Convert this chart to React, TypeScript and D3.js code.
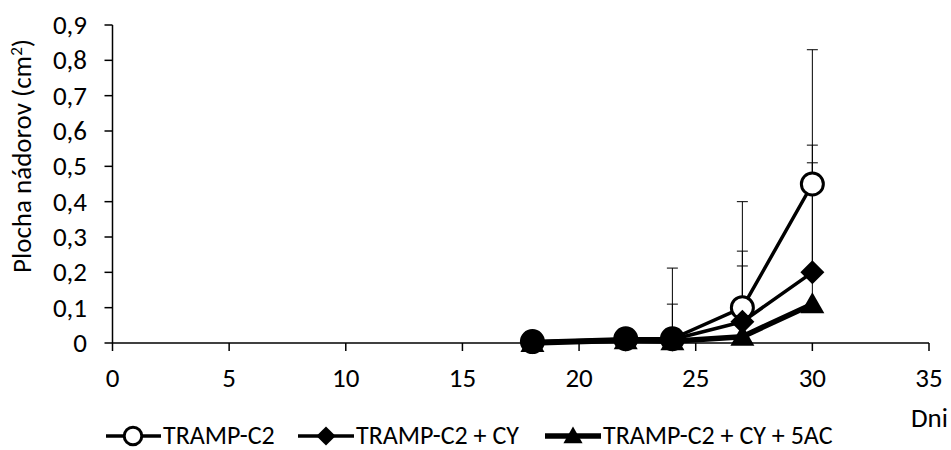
import React from "react";
import * as d3 from "d3";

const days = [18, 22, 24, 27, 30];
const tramp = [0.004, 0.012, 0.012, 0.1, 0.45];
const trampErr = [0, 0.004, 0.2, 0.3, 0.38];
const trampMarkerFill = ["#000", "#000", "#000", "#fff", "#fff"];
const trampCy = [0.002, 0.01, 0.01, 0.06, 0.2];
const trampCyErr = [0, 0.003, 0.1, 0.2, 0.36];
const trampCy5ac = [0.0, 0.008, 0.005, 0.018, 0.11];
const trampCy5acErr = [0, 0.002, 0.003, 0.2, 0.4];
const seriesNames = ["TRAMP-C2", "TRAMP-C2 + CY", "TRAMP-C2 + CY + 5AC"];
const xTicks = [0, 5, 10, 15, 20, 25, 30, 35];
const yTicks = [0, 0.1, 0.2, 0.3, 0.4, 0.5, 0.6, 0.7, 0.8, 0.9];

const FONT = "Carlito, Calibri, 'Open Sans', sans-serif";
const FS = 27;

function Marker({ type, x, y, fill, s = 1 }: { type: string; x: number; y: number; fill?: string; s?: number }) {
  if (type === "circle")
    return <circle cx={x} cy={y} r={11 * s} fill={fill || "#fff"} stroke="#000" strokeWidth={3} />;
  if (type === "diamond") {
    const k = 12 * s;
    return <path d={`M${x},${y - k}L${x + k},${y}L${x},${y + k}L${x - k},${y}Z`} fill="#000" />;
  }
  return (
    <path
      d={`M${x},${y - 12 * s}L${x + 12 * s},${y + 9 * s}L${x - 12 * s},${y + 9 * s}Z`}
      fill="#000"
    />
  );
}

export default function App() {
  const W = 951, H = 450;
  const x = d3.scaleLinear().domain([0, 35]).range([112.5, 929]);
  const y = d3.scaleLinear().domain([0, 0.9]).range([343, 25]);
  const fmt = (v: number) => (v === 0 ? "0" : d3.format(".1f")(v).replace(".", ","));

  const series = [
    { vals: tramp, err: trampErr, type: "circle", width: 3.5 },
    { vals: trampCy, err: trampCyErr, type: "diamond", width: 3.5 },
    { vals: trampCy5ac, err: trampCy5acErr, type: "triangle", width: 5.5 },
  ];
  const line = d3
    .line<number>()
    .x((_, i) => x(days[i]))
    .y((d) => y(d));

  const legendItems = [
    { x0: 106, x1: 161, mx: 133, tx: 163 },
    { x0: 298, x1: 354, mx: 326, tx: 356 },
    { x0: 545, x1: 601, mx: 573, tx: 603 },
  ];
  const LY = 436;

  return (
    <svg width={W} height={H} style={{ position: "absolute", left: 0, top: 0, background: "#fff" }}>
      <rect width={W} height={H} fill="#fff" />
      <line x1={x(0)} x2={x(0)} y1={y(0.9)} y2={y(0)} stroke="#000" strokeWidth={1.5} />
      <line x1={x(0)} x2={x(35)} y1={y(0)} y2={y(0)} stroke="#000" strokeWidth={1.5} />
      {yTicks.map((t) => (
        <g key={t}>
          <line x1={x(0) - 8} x2={x(0)} y1={y(t)} y2={y(t)} stroke="#000" strokeWidth={1.5} />
          <text x={87} y={y(t) + 9} textAnchor="end" fontFamily={FONT} fontSize={FS} fill="#000">
            {fmt(t)}
          </text>
        </g>
      ))}
      {xTicks.map((t) => (
        <g key={t}>
          <line x1={x(t)} x2={x(t)} y1={y(0)} y2={y(0) + 8} stroke="#000" strokeWidth={1.5} />
          <text x={x(t)} y={387} textAnchor="middle" fontFamily={FONT} fontSize={FS} fill="#000">
            {t}
          </text>
        </g>
      ))}
      <text x={911} y={427} fontFamily={FONT} fontSize={FS} fill="#000">
        Dni
      </text>
      <text
        transform={`translate(31,${156}) rotate(-90)`}
        textAnchor="middle"
        fontFamily={FONT}
        fontSize={FS}
        fill="#000"
      >
        Plocha nádorov (cm<tspan dy={-9} fontSize={17}>2</tspan>
        <tspan dy={9}>)</tspan>
      </text>
      {series.map((s, si) =>
        s.vals.map((v, i) =>
          s.err[i] > 0.01 ? (
            <g key={`e${si}-${i}`} stroke="#000" strokeWidth={1}>
              <line x1={x(days[i])} x2={x(days[i])} y1={y(v)} y2={y(v + s.err[i])} />
              <line x1={x(days[i]) - 5.5} x2={x(days[i]) + 5.5} y1={y(v + s.err[i])} y2={y(v + s.err[i])} />
            </g>
          ) : null
        )
      )}
      {series.map((s, si) => (
        <g key={`s${si}`}>
          <path d={line(s.vals) || ""} fill="none" stroke="#000" strokeWidth={s.width} strokeLinejoin="round" />
          {s.vals.map((v, i) => (
            <Marker key={i} type={s.type} x={x(days[i])} y={y(v)} fill={si === 0 ? trampMarkerFill[i] : undefined} />
          ))}
        </g>
      ))}
      {series.map((s, si) => {
        const L = legendItems[si];
        return (
          <g key={`l${si}`}>
            <line x1={L.x0} x2={L.x1} y1={LY} y2={LY} stroke="#000" strokeWidth={s.width} />
            <Marker type={s.type} x={L.mx} y={LY} fill="#fff" s={0.8} />
            <text x={L.tx} y={LY + 7.5} fontFamily={FONT} fontSize={26} fill="#000">
              {seriesNames[si]}
            </text>
          </g>
        );
      })}
    </svg>
  );
}
